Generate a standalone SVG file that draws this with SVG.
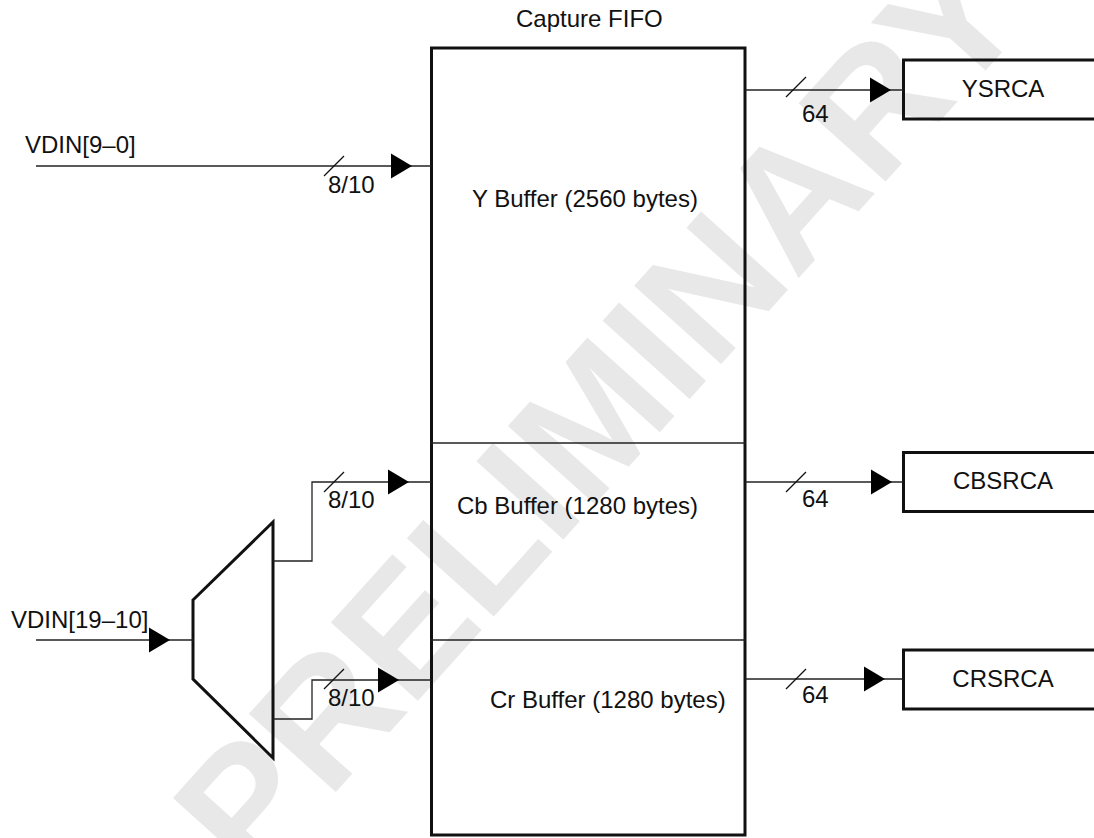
<svg xmlns="http://www.w3.org/2000/svg" xmlns:xlink="http://www.w3.org/1999/xlink" width="1094" height="838" viewBox="0 0 1094 838">
<style>
.t{font-family:"Liberation Sans",Arial,sans-serif;font-size:24px;fill:#111}
.wm{font-family:"Liberation Sans",Arial,sans-serif;font-weight:bold;font-size:170px;fill:#e8e8e8}
.box{fill:none;stroke:#111;stroke-width:3}
.ln{fill:none;stroke:#222;stroke-width:1.3}
.tick{stroke:#111;stroke-width:1.2}
.ah{fill:#000}
</style>
<defs>
<path id="ah" d="M0,0 L-21,-12.5 L-21,12.5 Z"/>
</defs>
<rect width="1094" height="838" fill="#fff"/>
<text class="wm" transform="translate(642,452) rotate(-48)" text-anchor="middle">PRELIMINARY</text>

<g id="fifo">
<rect class="box" x="431.5" y="48" width="313.5" height="787"/>
<line class="ln" x1="431" y1="443" x2="745" y2="443"/>
<line class="ln" x1="431" y1="640" x2="745" y2="640"/>
<text class="t" x="516" y="27">Capture FIFO</text>
<text class="t" x="472" y="207">Y Buffer (2560 bytes)</text>
<text class="t" x="457" y="514">Cb Buffer (1280 bytes)</text>
<text class="t" x="490" y="708">Cr Buffer (1280 bytes)</text>
</g>

<g id="mux">
<polygon class="box" points="193,600 273,522 273,758 193,679"/>
</g>

<g id="ysrca">
<rect class="box" x="903.5" y="60" width="200" height="59"/>
<text class="t" x="1003" y="96.5" text-anchor="middle">YSRCA</text>
</g>
<g id="cbsrca">
<rect class="box" x="903.5" y="452.5" width="200" height="59"/>
<text class="t" x="1003" y="489" text-anchor="middle">CBSRCA</text>
</g>
<g id="crsrca">
<rect class="box" x="903.5" y="650" width="200" height="59"/>
<text class="t" x="1003" y="686.5" text-anchor="middle">CRSRCA</text>
</g>

<g id="connectors">
<line class="ln" x1="36" y1="166" x2="431" y2="166"/>
<line class="tick" x1="324" y1="176" x2="344" y2="156"/>
<use xlink:href="#ah" href="#ah" class="ah" x="412" y="166"/>
<text class="t" x="328" y="193">8/10</text>
<text class="t" x="25" y="153">VDIN[9–0]</text>

<line class="ln" x1="36" y1="640" x2="193" y2="640"/>
<use xlink:href="#ah" href="#ah" class="ah" x="170" y="640"/>
<text class="t" x="11" y="628">VDIN[19–10]</text>

<polyline class="ln" points="273,561 312,561 312,482 431,482"/>
<line class="tick" x1="324" y1="492" x2="344" y2="472"/>
<use xlink:href="#ah" href="#ah" class="ah" x="409" y="482"/>
<text class="t" x="328" y="508">8/10</text>

<polyline class="ln" points="273,719 312,719 312,680 431,680"/>
<line class="tick" x1="324" y1="689" x2="344" y2="669"/>
<use xlink:href="#ah" href="#ah" class="ah" x="399" y="680"/>
<text class="t" x="328" y="706">8/10</text>

<line class="ln" x1="745" y1="90" x2="903" y2="90"/>
<line class="tick" x1="786" y1="97" x2="806" y2="77"/>
<use xlink:href="#ah" href="#ah" class="ah" x="891" y="90"/>
<text class="t" x="802" y="122">64</text>

<line class="ln" x1="745" y1="482" x2="903" y2="482"/>
<line class="tick" x1="786" y1="492" x2="806" y2="472"/>
<use xlink:href="#ah" href="#ah" class="ah" x="892" y="482"/>
<text class="t" x="802" y="507">64</text>

<line class="ln" x1="745" y1="679" x2="903" y2="679"/>
<line class="tick" x1="786" y1="689" x2="806" y2="669"/>
<use xlink:href="#ah" href="#ah" class="ah" x="885" y="679"/>
<text class="t" x="802" y="703">64</text>
</g>
</svg>
